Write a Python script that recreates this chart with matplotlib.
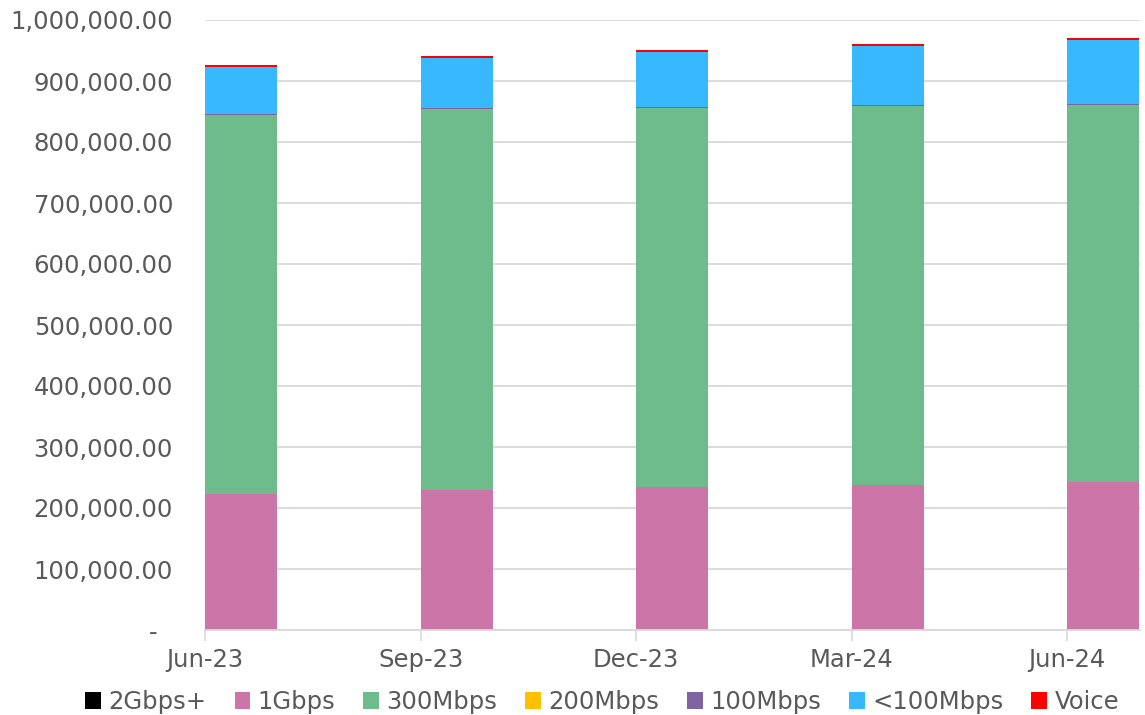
import matplotlib
matplotlib.use("Agg")
import matplotlib.pyplot as plt
import numpy as np
from matplotlib.ticker import FuncFormatter, MultipleLocator

categories = ["Jun-23", "Sep-23", "Dec-23", "Mar-24", "Jun-24"]
series_names = ["2Gbps+", "1Gbps", "300Mbps", "200Mbps", "100Mbps", "<100Mbps", "Voice"]
gbps2_plus = [200, 200, 200, 200, 300]
gbps1 = [223400, 229500, 233900, 237200, 242000]
mbps300 = [620500, 624100, 621500, 621400, 618200]
mbps200 = [0, 0, 0, 0, 0]
mbps100 = [2500, 2500, 2500, 2500, 2500]
mbps_lt100 = [76000, 81700, 89700, 96300, 103400]
voice = [3300, 2600, 2700, 3800, 3300]

colors = ["#000000", "#CC75A8", "#6EBC8C", "#FFC000", "#8064A2", "#38B8FF", "#FF0000"]
series = [gbps2_plus, gbps1, mbps300, mbps200, mbps100, mbps_lt100, voice]

fig = plt.figure(figsize=(11.45, 7.15), dpi=100)
ax = fig.add_axes([205/1145, 1-630/715, (1140-205)/1145, 610/715])

x = np.arange(len(categories))
bottom = np.zeros(len(categories))
handles = []
for name, vals, c in zip(series_names, series, colors):
    v = np.array(vals, dtype=float)
    h = ax.bar(x, v, width=0.334, align="edge", bottom=bottom, color=c, label=name, linewidth=0)
    handles.append(h)
    bottom += v

ax.set_xlim(0, 4.337)
ax.set_ylim(0, 1000000)
ax.yaxis.set_major_locator(MultipleLocator(100000))

def fmt(v, pos):
    if abs(v) < 1e-6:
        return "-  "
    return f"{v:,.2f}"
ax.yaxis.set_major_formatter(FuncFormatter(fmt))
ax.set_xticks(x)
ax.set_xticklabels(categories)

textc = "#595959"
ax.tick_params(axis="y", length=0, pad=23, labelsize=17.5, labelcolor=textc)
ax.tick_params(axis="x", length=8, width=1.2, color="#D9D9D9", pad=5, labelsize=17.5, labelcolor=textc)
ax.grid(axis="y", color="#D9D9D9", linewidth=1.3)
ax.set_axisbelow(True)
for s in ["top", "right", "left"]:
    ax.spines[s].set_visible(False)
ax.spines["bottom"].set_color("#D9D9D9")
ax.spines["bottom"].set_linewidth(1.3)

leg = fig.legend(handles=handles, labels=series_names, loc="center", bbox_to_anchor=(0.526, 1-702/715),
                 ncol=7, frameon=False, fontsize=17.5, handlelength=0.65, handleheight=0.65,
                 handletextpad=0.3, columnspacing=1.15, labelcolor=textc)

fig.savefig("out.png", dpi=100)
